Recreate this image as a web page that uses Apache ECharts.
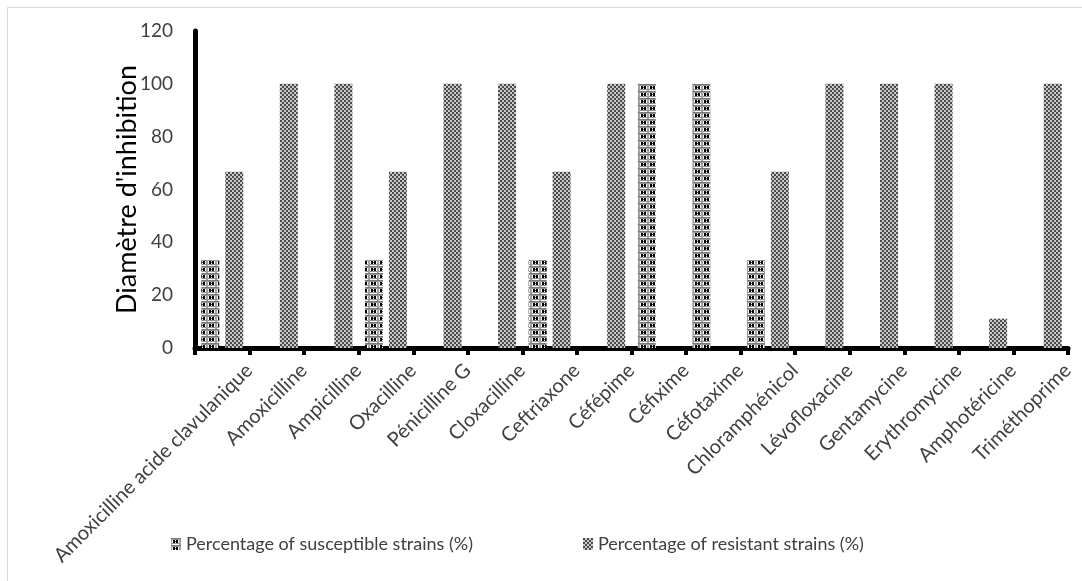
<!DOCTYPE html>
<html>
<head>
<meta charset="utf-8">
<script src="https://cdn.jsdelivr.net/npm/echarts@6/dist/echarts.min.js"></script>
<style>html,body{margin:0;padding:0;background:#fff}#c{width:1082px;height:581px}</style>
</head>
<body>
<div id="c"></div>
<script>
var categories = ["Amoxicilline acide clavulanique","Amoxicilline","Ampicilline","Oxacilline","Pénicilline G","Cloxacilline","Ceftriaxone","Céfépime","Céfixime","Céfotaxime","Chloramphénicol","Lévofloxacine","Gentamycine","Erythromycine","Amphotéricine","Triméthoprime"];
var susceptible = [33.3,0,0,33.3,0,0,33.3,0,100,100,33.3,0,0,0,0,0];
var resistant = [66.7,100,100,66.7,100,100,66.7,100,0,0,66.7,100,100,100,11.1,100];
var yTicks = [0,20,40,60,80,100,120];

function makeSusc(){
  var c=document.createElement('canvas');c.width=9;c.height=7;
  var g=c.getContext('2d');
  g.fillStyle='#fff';g.fillRect(0,0,9,7);
  g.fillStyle='#7a7a7a';
  g.fillRect(0,0,9,1);
  g.fillStyle='#a0a0a0';
  for(var y=1;y<7;y+=1){g.fillRect(0,y,1,1);g.fillRect(8,y,1,1);}
  g.fillStyle='#909090';g.fillRect(1,1,7,1);g.fillRect(1,5,7,1);
  g.fillStyle='#000';g.fillRect(2,2,2,3);g.fillRect(5,2,2,3);
  g.fillStyle='#555';g.fillRect(4,3,1,1);
  return c;
}
function makeRes(){
  var c=document.createElement('canvas');c.width=4;c.height=4;
  var g=c.getContext('2d');
  g.fillStyle='#c8c8c8';g.fillRect(0,0,4,4);
  g.fillStyle='#4a4a4a';g.fillRect(0,0,2,2);g.fillRect(2,2,2,2);
  return c;
}
var sPat={image:makeSusc(),repeat:'repeat'};
var rPat={image:makeRes(),repeat:'repeat'};

var chart=echarts.init(document.getElementById('c'),null,{renderer:'canvas'});
chart.setOption({
  animation:false,
  backgroundColor:'#fff',
  graphic:[{type:'rect',shape:{x:7.5,y:7.5,width:1200,height:700},style:{fill:'none',stroke:'#d9d9d9',lineWidth:1},silent:true}],
  grid:{left:195,right:14,top:31,bottom:233},
  legend:{
    top:530,left:166,itemWidth:10,itemHeight:12,itemGap:110,icon:'rect',
    textStyle:{fontFamily:'Lato',fontSize:18,color:'#404040'},
    data:['Percentage of susceptible strains (%)','Percentage of resistant strains (%)']
  },
  xAxis:{
    type:'category',data:categories,
    axisLine:{lineStyle:{color:'#000',width:5}},
    axisTick:{show:true,length:7,lineStyle:{color:'#000',width:4}},
    axisLabel:{rotate:45,interval:0,margin:46,padding:[0,-38,0,0],fontFamily:'Lato',fontSize:20,color:'#404040'}
  },
  yAxis:{
    type:'value',min:0,max:120,interval:20,
    name:"Diamètre d'inhibition",nameLocation:'middle',nameGap:54,nameMoveOverlap:false,
    nameTextStyle:{fontFamily:'Lato',fontSize:27,color:'#000'},
    axisLine:{show:true,lineStyle:{color:'#000',width:5}},
    axisTick:{show:false},
    splitLine:{show:false},
    axisLabel:{margin:22,fontFamily:'Lato',fontSize:19,color:'#404040',
      formatter:function(v){return yTicks.indexOf(v)>=0?String(v):'';}}
  },
  series:[
    {name:'Percentage of susceptible strains (%)',type:'bar',data:susceptible,barWidth:18,barGap:'33%',itemStyle:{color:sPat}},
    {name:'Percentage of resistant strains (%)',type:'bar',data:resistant,barWidth:18,itemStyle:{color:rPat}}
  ]
});
</script>
</body>
</html>
